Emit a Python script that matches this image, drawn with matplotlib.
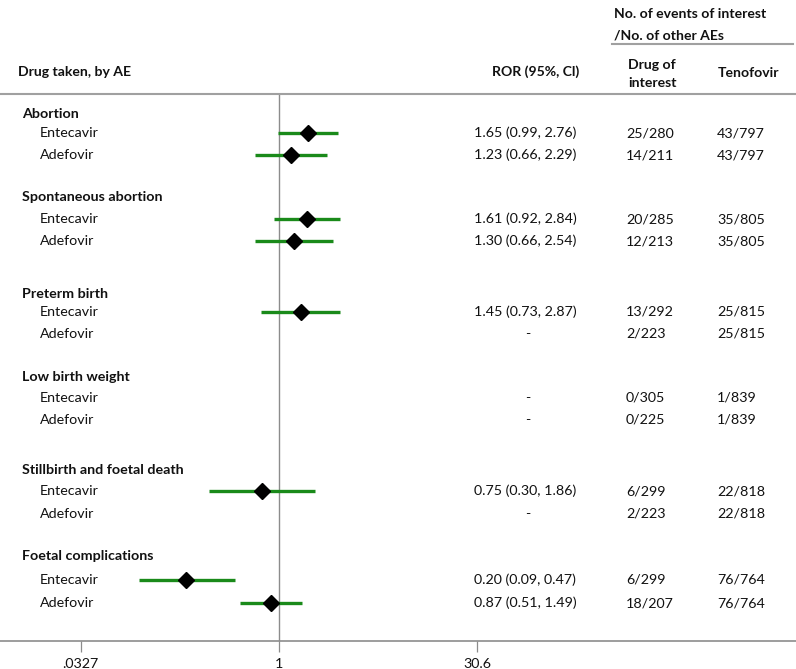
import numpy as np
import matplotlib
matplotlib.use("Agg")
import matplotlib.pyplot as plt

# ---------------- data ----------------
groups = ["Abortion", "Spontaneous abortion", "Preterm birth",
          "Low birth weight", "Stillbirth and foetal death", "Foetal complications"]
drugs = ["Entecavir", "Adefovir"]

ent_ror = [1.65, 1.61, 1.45, np.nan, 0.75, 0.20]
ent_lo = [0.99, 0.92, 0.73, np.nan, 0.30, 0.09]
ent_hi = [2.76, 2.84, 2.87, np.nan, 1.86, 0.47]

ade_ror = [1.23, 1.30, np.nan, np.nan, np.nan, 0.87]
ade_lo = [0.66, 0.66, np.nan, np.nan, np.nan, 0.51]
ade_hi = [2.29, 2.54, np.nan, np.nan, np.nan, 1.49]

ent_counts = ["25/280", "20/285", "13/292", "0/305", "6/299", "6/299"]
ade_counts = ["14/211", "12/213", "2/223", "0/225", "2/223", "18/207"]
teno_ent = ["43/797", "35/805", "25/815", "1/839", "22/818", "76/764"]
teno_ade = ["43/797", "35/805", "25/815", "1/839", "22/818", "76/764"]

xticks = [0.0327, 1, 30.6]
xticklabels = [".0327", "1", "30.6"]

# ---------------- layout (pixel rows) ----------------
W, H = 796, 669
hdr_y = [114, 197, 294, 377, 470, 556]
ent_y = [133, 219, 312, 398, 491, 580]
ade_y = [155, 241, 334, 420, 514, 603]

plt.rcParams['font.family'] = ['Lato', 'DejaVu Sans']
FS = 10.3
HFS = 10.1

fig = plt.figure(figsize=(W / 100, H / 100), dpi=100)
ax = fig.add_axes([0, 0, 1, 1])
ax.set_xscale('log')
# pixel mapping: x=1 at px 279, 133.6 px per decade
k = 133.6
x0 = 279
ax.set_xlim(10 ** (-x0 / k), 10 ** ((W - x0) / k))
ax.set_ylim(H, 0)

for s in ['top', 'right', 'left']:
    ax.spines[s].set_visible(False)
ax.spines['bottom'].set_position(('data', 641))
ax.spines['bottom'].set_color('#8c8c8c')
ax.spines['bottom'].set_linewidth(1.2)
ax.set_yticks([])
ax.set_xticks(xticks)
ax.set_xticklabels(xticklabels)
ax.xaxis.set_minor_locator(matplotlib.ticker.NullLocator())
ax.tick_params(axis='x', direction='out', length=8, width=0.9, color='#8c8c8c',
               labelsize=FS, pad=4, labelcolor='#111111')

# reference line
ax.vlines(1, 94, 641, color='#8c8c8c', lw=1.0, zorder=1)

# header lines
ax.axhline(94, xmin=0, xmax=1, color='#a0a0a0', lw=1.5)
ax.axhline(44, xmin=612 / W, xmax=793 / W, color='#a0a0a0', lw=1.5)

green = '#1a8a1a'
for ror, lo, hi, ys in [(ent_ror, ent_lo, ent_hi, ent_y), (ade_ror, ade_lo, ade_hi, ade_y)]:
    for r, l, h, y in zip(ror, lo, hi, ys):
        if np.isnan(r):
            continue
        ax.hlines(y, l, h, color=green, lw=2.4, zorder=2)
        ax.plot([r], [y], marker='D', color='black', ms=8, zorder=3)

blend = matplotlib.transforms.blended_transform_factory(ax.transAxes, ax.transData)

def ptext(x, y, s, **kw):
    ax.text(x / W, y, s, transform=blend,
            fontsize=kw.pop('fontsize', FS), va='center', color='#111111', **kw)

# column headers
ptext(18, 72, "Drug taken, by AE", fontweight='bold', fontsize=HFS)
ptext(536, 72, "ROR (95%, Cl)", fontweight='bold', ha='center', fontsize=HFS)
ptext(628, 65, "Drug of", fontweight='bold', fontsize=HFS)
ptext(628, 83, "interest", fontweight='bold', fontsize=HFS)
ptext(718, 73, "Tenofovir", fontweight='bold', fontsize=HFS)
ptext(614, 14, "No. of events of interest", fontweight='bold', fontsize=HFS)
ptext(614, 36, "/No. of other AEs", fontweight='bold', fontsize=HFS)

def ror_text(r, l, h):
    if np.isnan(r):
        return "-"
    return f"{r:.2f} ({l:.2f}, {h:.2f})"

for i, g in enumerate(groups):
    ptext(22, hdr_y[i], g, fontweight='bold')
    ptext(40, ent_y[i], drugs[0])
    ptext(40, ade_y[i], drugs[1])
    for ror, lo, hi, y, cnt, tcnt in [(ent_ror, ent_lo, ent_hi, ent_y[i], ent_counts[i], teno_ent[i]),
                                      (ade_ror, ade_lo, ade_hi, ade_y[i], ade_counts[i], teno_ade[i])]:
        s = ror_text(ror[i], lo[i], hi[i])
        if s == "-":
            ptext(528, y, s, ha='center')
        else:
            ptext(474, y, s)
        ptext(626, y, cnt)
        ptext(717, y, tcnt)

fig.savefig("out.png", dpi=100)
